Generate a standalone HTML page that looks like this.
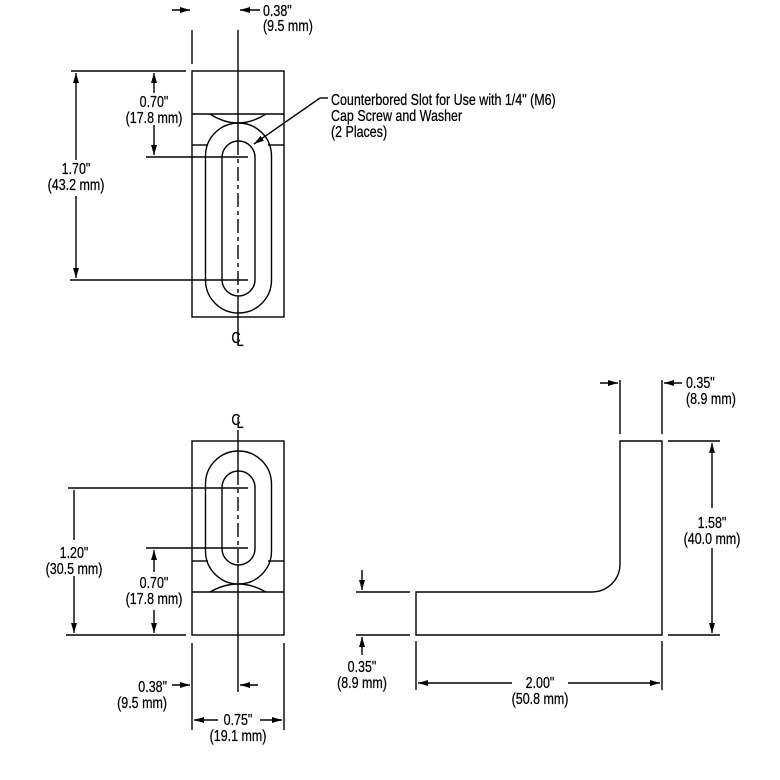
<!DOCTYPE html>
<html><head><style>
html,body{margin:0;padding:0;background:#fff;}
svg{display:block;}
text{font-family:"Liberation Sans",sans-serif;font-size:16px;fill:#000;stroke:#000;stroke-width:0.25;}
</style></head><body>
<svg width="780" height="780" viewBox="0 0 780 780" xmlns="http://www.w3.org/2000/svg">
<defs>
<marker id="a" viewBox="0 0 10 6" refX="10" refY="3" markerWidth="10" markerHeight="6" orient="auto" markerUnits="userSpaceOnUse"><path d="M0,0 L10,3 L0,6 Z" fill="#000"/></marker>
</defs>
<g fill="none" stroke="#000" stroke-width="1.4">
<!-- TOP VIEW -->
<rect x="192" y="71" width="92" height="246"/>
<line x1="192" y1="114" x2="284" y2="114"/>
<line x1="192" y1="145" x2="208" y2="145"/>
<line x1="268" y1="145" x2="284" y2="145"/>
<path d="M210,114 Q238,132 266,114"/>
<rect x="205.5" y="123" width="66" height="190" rx="33" ry="33"/>
<rect x="222" y="141" width="33" height="155" rx="16.5" ry="16.5"/>
<line x1="238" y1="30" x2="238" y2="141"/>
<line x1="238" y1="141" x2="238" y2="296" stroke-dasharray="14 4 4 4"/>
<line x1="238" y1="296" x2="238" y2="345"/>
<line x1="228" y1="157" x2="248" y2="157"/>
<line x1="228" y1="280" x2="248" y2="280"/>
<!-- top dims -->
<line x1="192" y1="30" x2="192" y2="64"/>
<line x1="172" y1="10" x2="190" y2="10" marker-end="url(#a)"/>
<line x1="260" y1="10" x2="240" y2="10" marker-end="url(#a)"/>
<line x1="71" y1="71" x2="186" y2="71"/>
<line x1="70" y1="280" x2="228" y2="280"/>
<line x1="146" y1="157" x2="228" y2="157"/>
<line x1="76" y1="160" x2="76" y2="73" marker-end="url(#a)"/>
<line x1="76" y1="196" x2="76" y2="278" marker-end="url(#a)"/>
<line x1="154" y1="93" x2="154" y2="73" marker-end="url(#a)"/>
<line x1="154" y1="125" x2="154" y2="155" marker-end="url(#a)"/>
<line x1="328" y1="98" x2="320" y2="98"/>
<line x1="320" y1="98" x2="254" y2="144" marker-end="url(#a)"/>

<!-- BOTTOM VIEW -->
<rect x="192" y="441" width="92" height="194"/>
<line x1="192" y1="592" x2="284" y2="592"/>
<line x1="192" y1="561" x2="208" y2="561"/>
<line x1="268" y1="561" x2="284" y2="561"/>
<path d="M210,592 Q238,576 266,592"/>
<rect x="205.5" y="451" width="66" height="133" rx="33" ry="33"/>
<rect x="222" y="471" width="33" height="94" rx="16.5" ry="16.5"/>
<line x1="238" y1="430" x2="238" y2="471"/>
<line x1="238" y1="471" x2="238" y2="565" stroke-dasharray="14 4 4 4"/>
<line x1="238" y1="565" x2="238" y2="692"/>
<line x1="228" y1="488" x2="248" y2="488"/>
<line x1="228" y1="548" x2="248" y2="548"/>
<line x1="68" y1="488" x2="228" y2="488"/>
<line x1="146" y1="548" x2="228" y2="548"/>
<line x1="66" y1="635" x2="186" y2="635"/>
<line x1="74" y1="576" x2="74" y2="633" marker-end="url(#a)"/>
<line x1="74" y1="490" x2="74" y2="540"/>
<line x1="154" y1="572" x2="154" y2="550" marker-end="url(#a)"/>
<line x1="154" y1="610" x2="154" y2="633" marker-end="url(#a)"/>
<line x1="192" y1="643" x2="192" y2="730"/>
<line x1="284" y1="643" x2="284" y2="730"/>
<line x1="172" y1="685" x2="190" y2="685" marker-end="url(#a)"/>
<line x1="258" y1="685" x2="240" y2="685" marker-end="url(#a)"/>
<line x1="218" y1="720" x2="194" y2="720" marker-end="url(#a)"/>
<line x1="260" y1="720" x2="282" y2="720" marker-end="url(#a)"/>

<!-- SIDE VIEW -->
<path d="M416,592 L592,592 A28,28 0 0 0 620,564 L620,441 L662,441 L662,635 L416,635 Z"/>
<line x1="620" y1="380" x2="620" y2="434"/>
<line x1="662" y1="380" x2="662" y2="434"/>
<line x1="600" y1="383" x2="618" y2="383" marker-end="url(#a)"/>
<line x1="682" y1="383" x2="664" y2="383" marker-end="url(#a)"/>
<line x1="668" y1="441" x2="720" y2="441"/>
<line x1="668" y1="635" x2="720" y2="635"/>
<line x1="712" y1="508" x2="712" y2="443" marker-end="url(#a)"/>
<line x1="712" y1="548" x2="712" y2="633" marker-end="url(#a)"/>
<line x1="356" y1="592" x2="410" y2="592"/>
<line x1="356" y1="635" x2="410" y2="635"/>
<line x1="362" y1="570" x2="362" y2="590" marker-end="url(#a)"/>
<line x1="362" y1="655" x2="362" y2="637" marker-end="url(#a)"/>
<line x1="416" y1="641" x2="416" y2="690"/>
<line x1="662" y1="641" x2="662" y2="690"/>
<line x1="512" y1="683" x2="418" y2="683" marker-end="url(#a)"/>
<line x1="568" y1="683" x2="660" y2="683" marker-end="url(#a)"/>
</g>
<g>
<text transform="translate(263 16) scale(0.78 1)">0.38"</text>
<text transform="translate(263 31) scale(0.78 1)">(9.5 mm)</text>
<text transform="translate(331 105) scale(0.78 1)">Counterbored Slot for Use with 1/4" (M6)</text>
<text transform="translate(331 121) scale(0.78 1)">Cap Screw and Washer</text>
<text transform="translate(331 137) scale(0.78 1)">(2 Places)</text>
<text transform="translate(76 174) scale(0.78 1)" text-anchor="middle">1.70"</text>
<text transform="translate(76 190) scale(0.78 1)" text-anchor="middle">(43.2 mm)</text>
<text transform="translate(154 107) scale(0.78 1)" text-anchor="middle">0.70"</text>
<text transform="translate(154 123) scale(0.78 1)" text-anchor="middle">(17.8 mm)</text>
<text transform="translate(236 343) scale(0.8 1)" text-anchor="middle">C</text>
<text transform="translate(240 346) scale(0.8 1)" text-anchor="middle">L</text>
<text transform="translate(236 425) scale(0.8 1)" text-anchor="middle">C</text>
<text transform="translate(240 428) scale(0.8 1)" text-anchor="middle">L</text>
<text transform="translate(74 558) scale(0.78 1)" text-anchor="middle">1.20"</text>
<text transform="translate(74 574) scale(0.78 1)" text-anchor="middle">(30.5 mm)</text>
<text transform="translate(154 588) scale(0.78 1)" text-anchor="middle">0.70"</text>
<text transform="translate(154 604) scale(0.78 1)" text-anchor="middle">(17.8 mm)</text>
<text transform="translate(167 692) scale(0.78 1)" text-anchor="end">0.38"</text>
<text transform="translate(167 708) scale(0.78 1)" text-anchor="end">(9.5 mm)</text>
<text transform="translate(238 725) scale(0.78 1)" text-anchor="middle">0.75"</text>
<text transform="translate(238 741) scale(0.78 1)" text-anchor="middle">(19.1 mm)</text>
<text transform="translate(686 388) scale(0.78 1)">0.35"</text>
<text transform="translate(686 404) scale(0.78 1)">(8.9 mm)</text>
<text transform="translate(712 528) scale(0.78 1)" text-anchor="middle">1.58"</text>
<text transform="translate(712 544) scale(0.78 1)" text-anchor="middle">(40.0 mm)</text>
<text transform="translate(362 672) scale(0.78 1)" text-anchor="middle">0.35"</text>
<text transform="translate(362 688) scale(0.78 1)" text-anchor="middle">(8.9 mm)</text>
<text transform="translate(540 688) scale(0.78 1)" text-anchor="middle">2.00"</text>
<text transform="translate(540 704) scale(0.78 1)" text-anchor="middle">(50.8 mm)</text>
</g>
</svg>
</body></html>
